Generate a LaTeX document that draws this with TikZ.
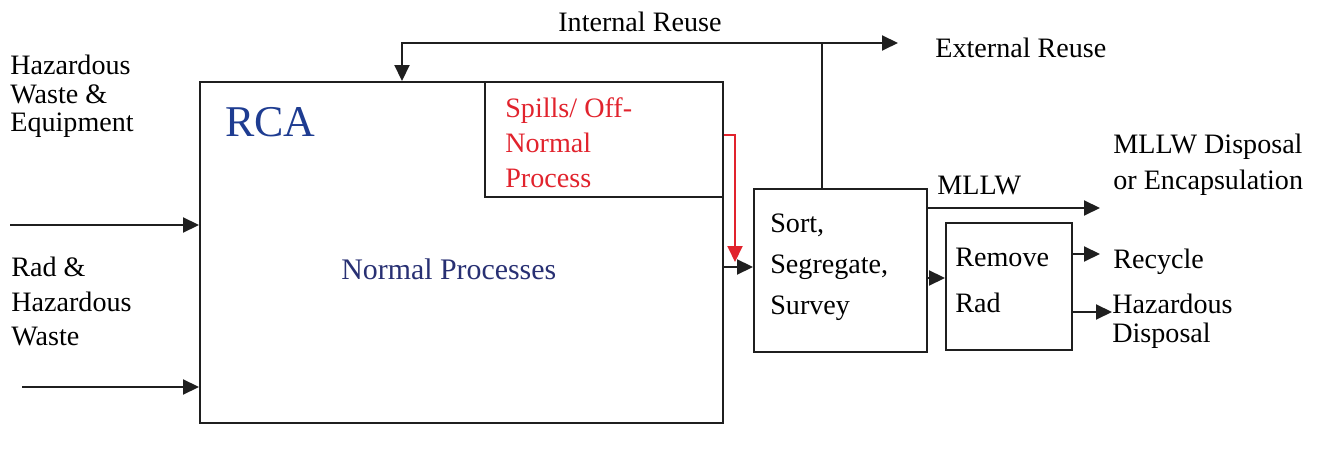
\documentclass[tikz,border=0pt]{standalone}
\usepackage{fontspec}
\setmainfont{Liberation Serif}
\usetikzlibrary{arrows.meta, positioning, fit}
\definecolor{rcablue}{RGB}{30,60,145}
\definecolor{procblue}{RGB}{40,48,115}
\definecolor{spillred}{RGB}{225,35,45}
\colorlet{lineblack}{black!88}
\tikzset{box/.style={draw=lineblack, line width=1.1pt, inner sep=0pt}}
\tikzset{line/.style={draw=lineblack, line width=1.1pt}}
\tikzset{flow/.style={line, -{Triangle[length=0.32cm, width=0.3cm]}}}
\tikzset{spillflow/.style={flow, draw=spillred}}
\tikzset{lbl/.style={anchor=base west, align=left, inner sep=0pt, font=\fontsize{16}{#1}\selectfont}, lbl/.default=17pt}

\begin{document}
\begin{tikzpicture}[x=0.02cm, y=-0.02cm]
  \useasboundingbox (0,0) rectangle (1332,452);

  % boxes
  \node [box, fit={(200,82) (723,423)}] (rca) {};
  \node [box, fit={(485,82) (723,197)}] (spills) {};
  \node [box, fit={(754,189) (927,352)}] (sort) {};
  \node [box, fit={(946,223) (1072,350)}] (remove) {};

  % texts (multi-line ones sit on their last baseline)
  \node [lbl, font=\fontsize{25}{28}\selectfont, text=rcablue] (rcalbl) at (225,137) {RCA};
  \node [lbl, font=\fontsize{17}{19}\selectfont, text=procblue] (normal) at (341,280) {Normal Processes};
  \node [lbl=20pt, text=spillred] (spilllbl) at (505,188) {Spills/ Off-\\Normal\\Process};
  \node [lbl=23.5pt] (sortlbl) at (770,315) {Sort,\\Segregate,\\Survey};
  \node [lbl=26.5pt] (removelbl) at (955,313) {Remove\\Rad};
  \node [lbl=16.5pt] (hazin) at (10,132) {Hazardous\\Waste \&\\Equipment};
  \node [lbl=19.8pt] (radin) at (11,346) {Rad \&\\Hazardous\\Waste};
  \node [lbl] (intlbl) at (558,32) {Internal Reuse};
  \node [lbl] (extlbl) at (935,58) {External Reuse};
  \node [lbl=21pt] (mllwdisp) at (1113,190) {MLLW Disposal\\or Encapsulation};
  \node [lbl] (mllwlbl) at (937,195) {MLLW};
  \node [lbl] (recycle) at (1113,269) {Recycle};
  \node [lbl=17pt] (hazdisp) at (1112,343) {Hazardous\\Disposal};

  % inputs on the left
  \coordinate (hazstart) at (10,225);
  \coordinate (radstart) at (22,387);
  \draw [flow] (hazstart) -- (hazstart -| rca.west);
  \draw [flow] (radstart) -- (radstart -| rca.west);

  % reuse loop over the top
  \coordinate (split) at (822,43);
  \coordinate (back) at (402,43);
  \coordinate (extend) at (898,43);
  \draw [line] (sort.north -| split) -- (split);
  \draw [flow] (split) -- (back) -- (back |- rca.north);
  \draw [flow] (split) -- (extend);

  % RCA to sorting, with the spill path
  \coordinate (feed) at (0,267);
  \draw [flow] (rca.east |- feed) -- (sort.west |- feed);
  \coordinate (drop) at (735,135);
  \draw [spillflow, shorten >=0.1cm] (spills.east |- drop) -- (drop) -- (drop |- feed);

  % outputs
  \coordinate (mllwend) at (1100,208);
  \draw [flow] (sort.east |- mllwend) -- (mllwend);
  \coordinate (sorty) at (0,278);
  \draw [flow] (sort.east |- sorty) -- (remove.west |- sorty);
  \coordinate (recycleend) at (1100,254);
  \draw [flow] (remove.east |- recycleend) -- (recycleend);
  \coordinate (hazend) at (1112,312);
  \draw [flow] (remove.east |- hazend) -- (hazend);
\end{tikzpicture}
\end{document}
